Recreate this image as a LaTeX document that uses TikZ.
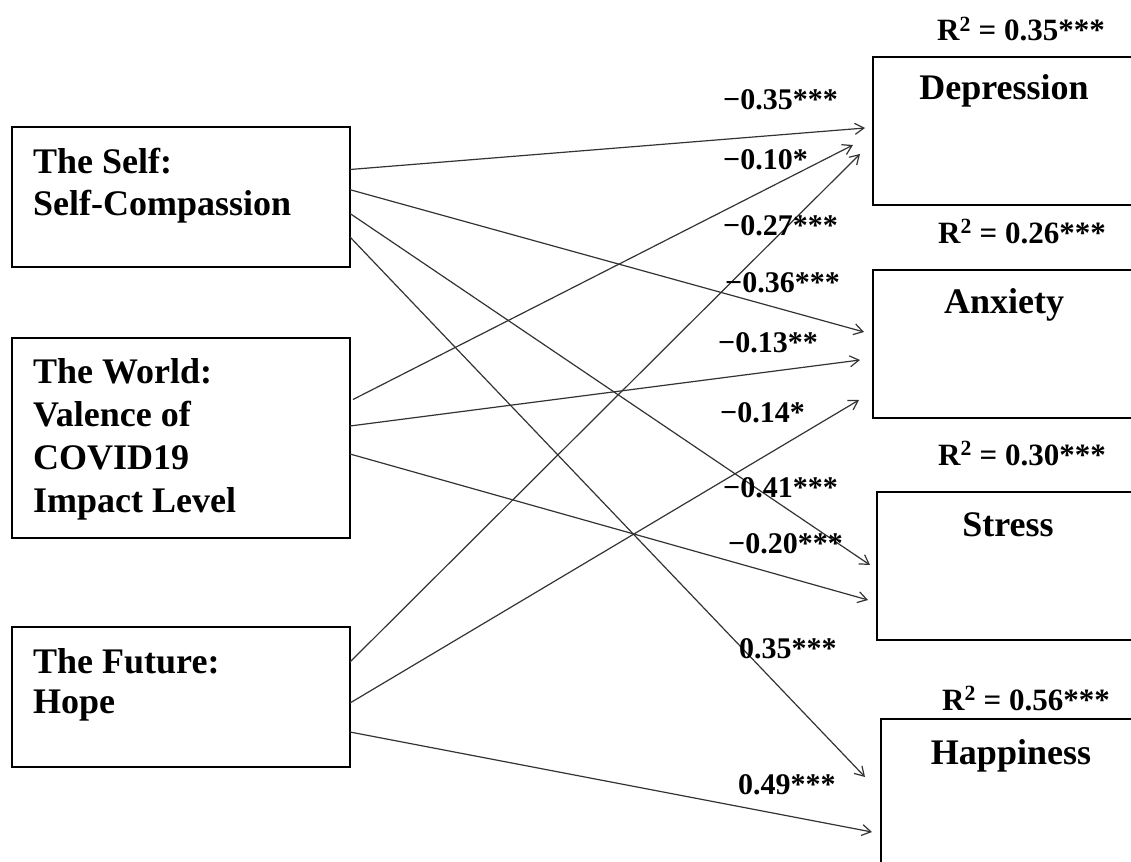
\documentclass[tikz,border=0pt]{standalone}
\usepackage{fontspec}
\setmainfont{Liberation Serif}
\usetikzlibrary{arrows.meta}
\begin{document}
\begin{tikzpicture}[x=1pt,y=-1pt,
  box/.style={draw=black, line width=2.4pt, rectangle, inner sep=0pt, outer sep=0pt, anchor=north west},
  lbl/.style={font=\fontsize{36}{42}\selectfont\bfseries, align=left, anchor=base west, inner sep=0pt},
  outlbl/.style={font=\fontsize{36}{42}\selectfont\bfseries, anchor=base, inner sep=0pt},
  rsq/.style={font=\fontsize{31}{36}\selectfont\bfseries, anchor=base, inner sep=0pt},
  coef/.style={font=\fontsize{30}{36}\selectfont\bfseries, anchor=base west, inner sep=0pt},
  conn/.style={draw=black!80, line width=1.2pt, -{Straight Barb[length=9pt,width=11pt,line width=1.2pt]}}
]
\useasboundingbox (0,0) rectangle (1131,861);
\clip (0,0) rectangle (1131,861);

% boxes
\node[box, minimum width=338pt, minimum height=140pt] (self) at (12,127) {};
\node[box, minimum width=338pt, minimum height=200pt] (world) at (12,338) {};
\node[box, minimum width=338pt, minimum height=140pt] (hope) at (12,627) {};
\node[box, minimum width=400pt, minimum height=148pt] (dep) at (873,57) {};
\node[box, minimum width=400pt, minimum height=148pt] (anx) at (873,270) {};
\node[box, minimum width=400pt, minimum height=148pt] (str) at (877,492) {};
\node[box, minimum width=400pt, minimum height=220pt] (hap) at (881,719) {};

% box texts (anchored at the baseline of the last line)
\node[lbl] (selft) at (33,215) {The Self:\\Self-Compassion};
\node[lbl, font=\fontsize{36}{43}\selectfont\bfseries] (worldt) at (33,512) {The World:\\Valence of\\COVID19\\Impact Level};
\node[lbl, font=\fontsize{36}{40}\selectfont\bfseries] (hopet) at (33,713) {The Future:\\Hope};
\node[outlbl] (dept) at (1004,100) {Depression};
\node[outlbl] (anxt) at (1004,313) {Anxiety};
\node[outlbl] (strt) at (1008,536) {Stress};
\node[outlbl] (hapt) at (1011,764) {Happiness};

% R squared
\node[rsq] (r1) at (1021,41) {R\textsuperscript{2} = 0.35***};
\node[rsq] (r2) at (1022,243) {R\textsuperscript{2} = 0.26***};
\node[rsq] (r3) at (1022,465) {R\textsuperscript{2} = 0.30***};
\node[rsq] (r4) at (1026,710) {R\textsuperscript{2} = 0.56***};

% paths
\draw[conn] ([yshift=-42.5pt]self.north east) -- ([xshift=-8pt,yshift=-71pt]dep.north west);
\draw[conn] ([yshift=-62.7pt]self.north east) -- ([xshift=-9pt,yshift=-62pt]anx.north west);
\draw[conn] ([yshift=-86.5pt]self.north east) -- ([xshift=-7pt,yshift=-73pt]str.north west);
\draw[conn] ([yshift=-110pt]self.north east) -- ([xshift=-16pt,yshift=-58pt]hap.north west);

\draw[conn] ([xshift=3pt,yshift=-61.5pt]world.north east) -- ([xshift=-20pt,yshift=-88pt]dep.north west);
\draw[conn] ([yshift=-88pt]world.north east) -- ([xshift=-13pt,yshift=-90pt]anx.north west);
\draw[conn] ([yshift=-116pt]world.north east) -- ([xshift=-9pt,yshift=-108pt]str.north west);

\draw[conn] ([yshift=-35pt]hope.north east) -- ([xshift=-13pt,yshift=-97pt]dep.north west);
\draw[conn] ([yshift=-76pt]hope.north east) -- ([xshift=-14pt,yshift=-130pt]anx.north west);
\draw[conn] ([yshift=-105pt]hope.north east) -- ([xshift=-9pt,yshift=-113pt]hap.north west);

% coefficients
\node[coef] (c1) at (723,110) {−0.35***};
\node[coef] (c2) at (723,170) {−0.10*};
\node[coef] (c3) at (723,235) {−0.27***};
\node[coef] (c4) at (725,292) {−0.36***};
\node[coef] (c5) at (718,352) {−0.13**};
\node[coef] (c6) at (720,422) {−0.14*};
\node[coef] (c7) at (723,497) {−0.41***};
\node[coef] (c8) at (728,553) {−0.20***};
\node[coef] (c9) at (739,658) {0.35***};
\node[coef] (c10) at (738,794) {0.49***};
\end{tikzpicture}
\end{document}
